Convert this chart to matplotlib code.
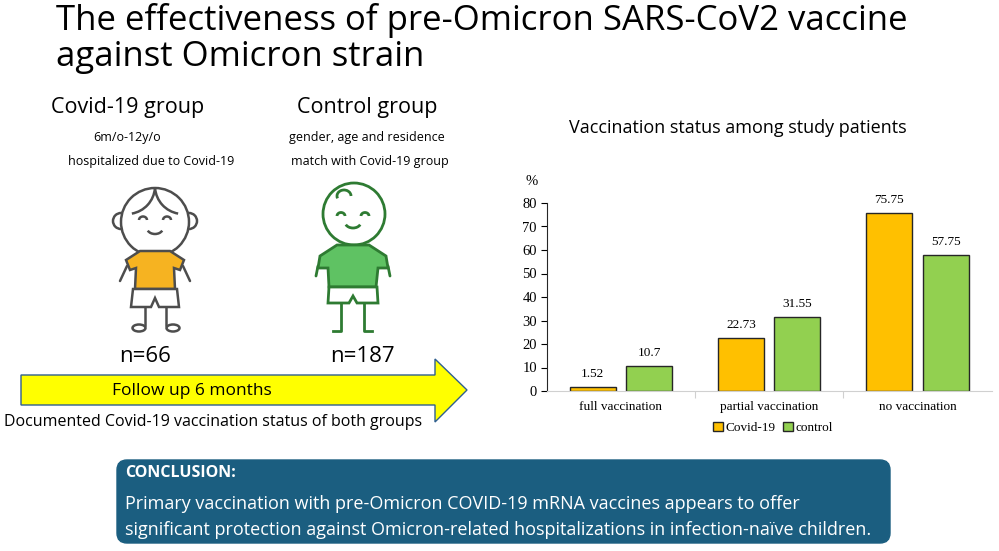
import matplotlib
matplotlib.use('Agg')
import matplotlib.pyplot as plt
import numpy as np
from matplotlib.patches import Circle, Ellipse, Arc, Polygon, FancyBboxPatch

# data
categories = ['full vaccination', 'partial vaccination', 'no vaccination']
covid = [1.52, 22.73, 75.75]
control = [10.7, 31.55, 57.75]
series_names = ['Covid-19', 'control']
yticks = [0, 10, 20, 30, 40, 50, 60, 70, 80]

sans = 'Open Sans'
serif = 'Liberation Serif'

W, H = 999, 551
fig = plt.figure(figsize=(W / 100, H / 100), dpi=100)
fig.patch.set_facecolor('white')

# overlay in pixel coordinates
ov = fig.add_axes([0, 0, 1, 1])
ov.set_xlim(0, W)
ov.set_ylim(H, 0)
ov.axis('off')

# title
ov.text(56, 30, 'The effectiveness of pre-Omicron SARS-CoV2 vaccine', fontsize=25,
        family=sans, va='baseline', ha='left')
ov.text(56, 66, 'against Omicron strain', fontsize=25,
        family=sans, va='baseline', ha='left')

# group headers
ov.text(128, 108, 'Covid-19 group', fontsize=15.5, family=sans, ha='center', va='center')
ov.text(367, 108, 'Control group', fontsize=15.5, family=sans, ha='center', va='center')
ov.text(127, 138, '6m/o-12y/o', fontsize=9, family=sans, ha='center', va='center')
ov.text(151, 162, 'hospitalized due to Covid-19', fontsize=9, family=sans, ha='center', va='center')
ov.text(367, 138, 'gender, age and residence', fontsize=9, family=sans, ha='center', va='center')
ov.text(370, 162, 'match with Covid-19 group', fontsize=9, family=sans, ha='center', va='center')
ov.text(145, 357, 'n=66', fontsize=16, family=sans, ha='center', va='center')
ov.text(362, 357, 'n=187', fontsize=16, family=sans, ha='center', va='center')

# covid kid (grey outline, orange shirt)
g = '#4d4d4d'
lw = 1.8
ov.add_patch(Circle((121, 221), 8, fc='white', ec=g, lw=lw, zorder=2))
ov.add_patch(Circle((189, 221), 8, fc='white', ec=g, lw=lw, zorder=2))
ov.add_patch(Circle((155, 222), 34, fc='white', ec=g, lw=lw, zorder=3))
ov.add_patch(Arc((127, 186), 56, 56, theta1=5, theta2=80, ec=g, lw=lw, zorder=4))
ov.add_patch(Arc((183, 186), 56, 56, theta1=100, theta2=175, ec=g, lw=lw, zorder=4))
ov.add_patch(Arc((143, 220), 8, 7, theta1=180, theta2=360, ec=g, lw=lw, zorder=4))
ov.add_patch(Arc((167, 220), 8, 7, theta1=180, theta2=360, ec=g, lw=lw, zorder=4))
ov.add_patch(Arc((155, 228), 16, 12, theta1=20, theta2=160, ec=g, lw=lw, zorder=4))
ov.plot([127, 120], [266, 281], color=g, lw=lw, solid_capstyle='round')
ov.plot([183, 190], [266, 281], color=g, lw=lw, solid_capstyle='round')
ov.add_patch(Polygon([(140, 251), (170, 251), (184, 260), (180, 270), (174, 268), (175, 289),
                      (135, 289), (136, 268), (130, 270), (126, 260)],
                     fc='#f6b321', ec=g, lw=lw, zorder=3))
ov.add_patch(Polygon([(133, 289), (177, 289), (179, 307), (159, 307), (155, 298), (151, 307), (131, 307)],
                     fc='white', ec=g, lw=lw, zorder=3))
ov.plot([145, 145], [307, 325], color=g, lw=lw)
ov.plot([166, 166], [307, 325], color=g, lw=lw)
ov.add_patch(Ellipse((139, 328), 13, 7, fc='white', ec=g, lw=lw, zorder=3))
ov.add_patch(Ellipse((173, 328), 13, 7, fc='white', ec=g, lw=lw, zorder=3))

# control kid (green outline, green shirt)
k = '#2e7b32'
ov.add_patch(Circle((354, 214), 31, fc='white', ec=k, lw=2, zorder=3))
ov.add_patch(Arc((344, 196), 14, 12, theta1=160, theta2=360, ec=k, lw=2, zorder=4))
ov.add_patch(Arc((341, 216), 8, 7, theta1=180, theta2=360, ec=k, lw=2, zorder=4))
ov.add_patch(Arc((365, 216), 8, 7, theta1=180, theta2=360, ec=k, lw=2, zorder=4))
ov.add_patch(Arc((353, 222), 16, 12, theta1=20, theta2=160, ec=k, lw=2, zorder=4))
ov.plot([318, 316], [266, 276], color=k, lw=2, solid_capstyle='round')
ov.plot([388, 390], [266, 276], color=k, lw=2, solid_capstyle='round')
ov.add_patch(Polygon([(337, 245), (369, 245), (386, 256), (388, 268), (378, 268), (376, 287),
                      (329, 287), (328, 268), (318, 268), (320, 256)],
                     fc='#5fc263', ec=k, lw=2, zorder=3))
ov.add_patch(Polygon([(329, 287), (377, 287), (378, 303), (357, 303), (353, 296), (349, 303), (328, 303)],
                     fc='white', ec=k, lw=2, zorder=3))
ov.plot([341, 341, 333], [303, 331, 331], color=k, lw=2)
ov.plot([364, 364, 372], [303, 331, 331], color=k, lw=2)

# follow up arrow
ov.add_patch(Polygon([(21, 375), (435, 375), (435, 359), (467, 390), (435, 422), (435, 405), (21, 405)],
                     fc='#ffff00', ec='#2f5f8f', lw=1, zorder=2))
ov.text(192, 391, 'Follow up 6 months', fontsize=12.5, family=sans, ha='center', va='center', zorder=3)
ov.text(4, 422, 'Documented Covid-19 vaccination status of both groups', fontsize=11.5,
        family=sans, ha='left', va='center')

# conclusion box
ov.add_patch(FancyBboxPatch((117, 460), 773, 83, boxstyle='round,pad=0,rounding_size=10',
                            fc='#1b5e80', ec='#1b5e80', zorder=2))
ov.text(125, 473, 'CONCLUSION:', fontsize=11.5, family=sans, weight='bold', color='white',
        ha='left', va='center', zorder=3)
ov.text(125, 504, 'Primary vaccination with pre-Omicron COVID-19 mRNA vaccines appears to offer',
        fontsize=13, family=sans, color='white', ha='left', va='center', zorder=3)
ov.text(125, 530, 'significant protection against Omicron-related hospitalizations in infection-na\u00efve children.',
        fontsize=13, family=sans, color='white', ha='left', va='center', zorder=3)

# chart title
ov.text(738, 128, 'Vaccination status among study patients', fontsize=13, family=sans,
        ha='center', va='center')

# bar chart
ax = fig.add_axes([546.7 / W, 1 - 391 / H, 445 / W, 188 / H])
x = np.arange(len(categories))
w = 0.31
b1 = ax.bar(x - 0.19, covid, w, color='#ffc000', edgecolor='#262626', lw=1, label=series_names[0])
b2 = ax.bar(x + 0.19, control, w, color='#92d050', edgecolor='#262626', lw=1, label=series_names[1])
for bars, vals in [(b1, covid), (b2, control)]:
    for r, v in zip(bars, vals):
        ax.text(r.get_x() + r.get_width() / 2, v + 3, f'{v:g}', ha='center', va='bottom',
                fontsize=9.5, family=serif)
ax.set_xlim(-0.5, 2.5)
ax.set_ylim(0, 80)
ax.set_yticks(yticks)
ax.set_yticklabels([str(t) for t in yticks], fontsize=10.5, family=serif)
ax.set_xticks([0.5, 1.5])
ax.set_xticklabels([])
ax.set_xticks(x, minor=True)
ax.set_xticklabels(categories, minor=True, fontsize=9.5, family=serif)
ax.tick_params(axis='x', which='minor', length=0, pad=7)
ax.tick_params(axis='x', which='major', length=5, color='#d0d0d0')
ax.tick_params(axis='y', length=4, pad=3)
for s in ['top', 'right']:
    ax.spines[s].set_visible(False)
ax.spines['bottom'].set_color('#d0d0d0')
ax.spines['left'].set_color('#262626')
ax.patch.set_alpha(0)
ax.text(-0.034, 1.113, '%', transform=ax.transAxes, fontsize=10.5, family=serif, ha='center', va='center')
fig.legend(handles=[b1, b2], loc='center', bbox_to_anchor=(773 / W, 1 - 428 / H), ncol=2,
           frameon=False, handlelength=0.7, handleheight=0.7, handletextpad=0.2, columnspacing=0.6,
           prop={'family': serif, 'size': 9.5})

fig.savefig('out.png', dpi=100)
